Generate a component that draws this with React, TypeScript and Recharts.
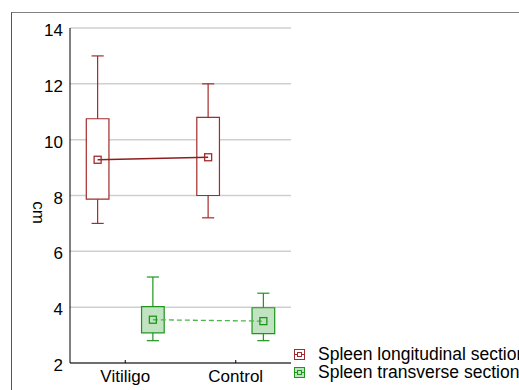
import React from 'react'
import {
  ComposedChart, Line, XAxis, YAxis, CartesianGrid,
  ReferenceArea, ReferenceLine,
} from 'recharts'

const groups = ['Vitiligo', 'Control']
const yTicks = [2, 4, 6, 8, 10, 12, 14]

// spleen longitudinal section (cm)
const longMin = [7.0, 7.2]
const longQ1 = [7.87, 8.0]
const longMean = [9.28, 9.37]
const longQ3 = [10.75, 10.8]
const longMax = [13.0, 12.0]

// spleen transverse section (cm)
const transMin = [2.8, 2.8]
const transQ1 = [3.08, 3.05]
const transMean = [3.55, 3.5]
const transQ3 = [4.02, 3.98]
const transMax = [5.08, 4.5]

const FONT = '"Liberation Sans", Arial, sans-serif'
const RED = '#a32b2b'
const RED_DARK = '#8e1d1d'
const GREEN = '#1e961e'
const GREEN_FILL = '#c2e3c2'
const GREEN_LINE = '#4fb34f'

const center = (i: number) => 1 + 2 * i
const BOX = 0.205
const CAP = 0.11

const series = [
  { name: 'Spleen longitudinal section', off: -0.5, min: longMin, q1: longQ1, mean: longMean, q3: longQ3, max: longMax, stroke: RED, fill: '#ffffff', line: RED_DARK, dash: undefined },
  { name: 'Spleen transverse section', off: 0.5, min: transMin, q1: transQ1, mean: transMean, q3: transQ3, max: transMax, stroke: GREEN, fill: GREEN_FILL, line: GREEN_LINE, dash: '5 3' },
]

const SquareDot = (color: string) => (props: any) => {
  const { cx, cy } = props
  if (cx == null || cy == null) return null
  return <rect x={cx - 3.5} y={cy - 3.5} width={7} height={7} fill="none" stroke={color} strokeWidth={1.3} />
}

function LegendIcon({ stroke, fill }: { stroke: string; fill: string }) {
  return (
    <svg width={11} height={11} style={{ display: 'block', flex: 'none' }}>
      <rect x={0.5} y={0.5} width={10} height={10} fill={fill} stroke={stroke} />
      <line x1={0.5} y1={5.5} x2={10.5} y2={5.5} stroke={stroke} />
      <rect x={3.5} y={3.5} width={4} height={4} fill={fill} stroke={stroke} />
    </svg>
  )
}

function LegendBox() {
  return (
    <div style={{ position: 'absolute', left: 294, top: 345, fontFamily: FONT, fontSize: 17.5, color: '#000', whiteSpace: 'nowrap' }}>
      {series.map((s) => (
        <div key={s.name} style={{ display: 'flex', alignItems: 'center', height: 18, lineHeight: '18px' }}>
          <LegendIcon stroke={s.stroke} fill={s.fill} />
          <span style={{ marginLeft: 13 }}>{s.name}</span>
        </div>
      ))}
    </div>
  )
}

export default function App() {
  return (
    <div style={{ position: 'absolute', left: 0, top: 0, width: 519, height: 390, overflow: 'hidden', background: '#fff' }}>
      <div style={{ position: 'absolute', left: 11, top: 12, width: 520, height: 400, borderLeft: '1px solid #555', borderTop: '1px solid #808080' }} />
      <ComposedChart
        width={519}
        height={390}
        margin={{ top: 28, right: 228, left: 0, bottom: 0 }}
        style={{ position: 'absolute', left: 0, top: 0, fontFamily: FONT }}
      >
        <CartesianGrid xAxisId="b" yAxisId="l" vertical={false} stroke="#cfcfcf" strokeWidth={1.5} />
        <XAxis
          xAxisId="b" type="number" dataKey="x" domain={[0, 4]} ticks={[1, 3]} orientation="bottom"
          tickFormatter={(v: number) => groups[(v - 1) / 2]}
          axisLine={{ stroke: '#000' }} tickLine={{ stroke: '#000' }} tickSize={-3} tickMargin={10}
          tick={{ fill: '#000', fontSize: 17 }} height={27} allowDataOverflow
        />
        <XAxis
          xAxisId="t" type="number" dataKey="x" domain={[0, 4]} ticks={[1, 3]} orientation="top"
          tick={false} axisLine={{ stroke: '#000' }} tickLine={{ stroke: '#000' }} tickSize={-3} height={0}
        />
        <YAxis
          yAxisId="l" type="number" domain={[2, 14]} ticks={yTicks} orientation="left" width={70}
          axisLine={{ stroke: '#000' }} tickLine={false} tickSize={0} tickMargin={7}
          tick={{ fill: '#000', fontSize: 17, dy: 2 }}
          label={{
            content: ({ viewBox }: any) => {
              const x = viewBox.x + 33
              const y = viewBox.y + viewBox.height / 2 + 17
              return (
                <text x={x} y={y} transform={`rotate(90, ${x}, ${y})`} textAnchor="middle" fontSize={17} fill="#000" fontFamily={FONT}>
                  cm
                </text>
              )
            },
          }}
        />
        <YAxis
          yAxisId="r" type="number" domain={[2, 14]} ticks={yTicks} orientation="right" width={0}
          tick={false} axisLine={{ stroke: '#808080', strokeWidth: 2 }} tickLine={{ stroke: '#000' }} tickSize={-3}
        />

        {series.map((s) =>
          groups.map((g, i) => {
            const x = center(i) + s.off
            return [
              <ReferenceLine key={`${s.name}-${g}-wu`} xAxisId="b" yAxisId="l" segment={[{ x, y: s.q3[i] }, { x, y: s.max[i] }]} stroke={s.stroke} strokeWidth={1.2} />,
              <ReferenceLine key={`${s.name}-${g}-wl`} xAxisId="b" yAxisId="l" segment={[{ x, y: s.min[i] }, { x, y: s.q1[i] }]} stroke={s.stroke} strokeWidth={1.2} />,
              <ReferenceLine key={`${s.name}-${g}-cu`} xAxisId="b" yAxisId="l" segment={[{ x: x - CAP, y: s.max[i] }, { x: x + CAP, y: s.max[i] }]} stroke={s.stroke} strokeWidth={1.2} />,
              <ReferenceLine key={`${s.name}-${g}-cl`} xAxisId="b" yAxisId="l" segment={[{ x: x - CAP, y: s.min[i] }, { x: x + CAP, y: s.min[i] }]} stroke={s.stroke} strokeWidth={1.2} />,
              <ReferenceArea key={`${s.name}-${g}-box`} xAxisId="b" yAxisId="l" x1={x - BOX} x2={x + BOX} y1={s.q1[i]} y2={s.q3[i]} stroke={s.stroke} strokeWidth={1.2} fill={s.fill} fillOpacity={1} />,
            ]
          })
        )}

        {series.map((s) => (
          <Line
            key={s.name}
            xAxisId="b" yAxisId="l"
            data={groups.map((g, i) => ({ x: center(i) + s.off, y: s.mean[i], group: g }))}
            dataKey="y" name={s.name} type="linear"
            stroke={s.line} strokeWidth={1.3} strokeDasharray={s.dash}
            dot={SquareDot(s.stroke)} activeDot={false}
            isAnimationActive={false}
          />
        ))}
      </ComposedChart>
      <LegendBox />
    </div>
  )
}
